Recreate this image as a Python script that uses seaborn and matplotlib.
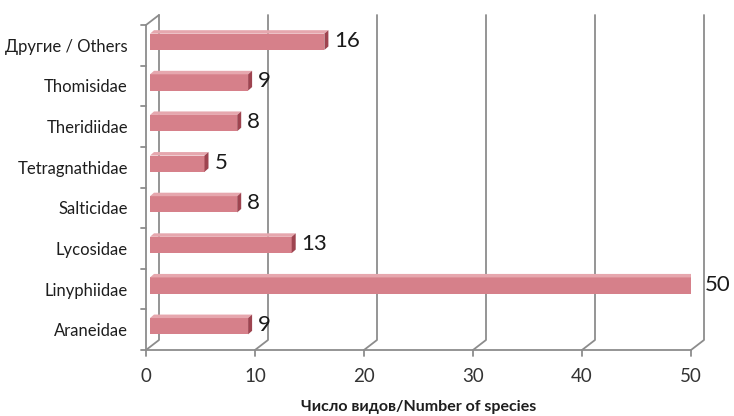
import matplotlib
matplotlib.use("Agg")
import matplotlib.pyplot as plt
from matplotlib.patches import Polygon
import pandas as pd
import seaborn as sns

families = ["Другие / Others", "Thomisidae", "Theridiidae", "Tetragnathidae",
            "Salticidae", "Lycosidae", "Linyphiidae", "Araneidae"]
species = [16, 9, 8, 5, 8, 13, 50, 9]
x_ticks = [0, 10, 20, 30, 40, 50]
x_label = "Число видов/Number of species"

sns.set_style("white")
plt.rcParams["font.family"] = ["Lato", "Open Sans", "DejaVu Sans"]

W, H = 734, 416
fig = plt.figure(figsize=(W / 100, H / 100), dpi=100)
left_px, right_px, top_px, floor_px = 146, 691, 25, 350
ax = fig.add_axes([left_px / W, 1 - floor_px / H,
                   (right_px - left_px) / W, (floor_px - top_px) / H])

df = pd.DataFrame({"family": families, "n": species})
front = "#d6808a"
sns.barplot(data=df, x="n", y="family", orient="h", color=front,
            width=0.40, saturation=1, ax=ax, edgecolor="none")

ax.set_xlim(0, 50)
ax.set_ylim(len(families) - 0.5, -0.5)

# pixel -> data helpers
ppx = (right_px - left_px) / 50
ppy = (floor_px - top_px) / len(families)
wall_dx, wall_dy = 13 / ppx, 10 / ppy       # back wall depth
bar_dx, bar_dy = 4 / ppx, 3.5 / ppy         # bar front plane offset
dep_dx, dep_dy = 4 / ppx, 3.5 / ppy         # bar depth

grid_c = "#8c8c8c"
y_bot, y_top = len(families) - 0.5, -0.5
for v in x_ticks:
    # floor slant + back wall gridline
    ax.plot([v, v + wall_dx, v + wall_dx],
            [y_bot, y_bot - wall_dy, y_top - wall_dy],
            color=grid_c, lw=1.3, clip_on=False, zorder=1)
    ax.plot([v, v], [y_bot, y_bot + 6 / ppy], color=grid_c, lw=1.3,
            clip_on=False, zorder=1)
# top slant of the left wall
ax.plot([0, wall_dx], [y_top, y_top - wall_dy], color=grid_c, lw=1.3,
        clip_on=False, zorder=1)
# category separators on the front axis
for k in range(len(families) + 1):
    y = k - 0.5
    ax.plot([0, -5 / ppx], [y, y], color=grid_c, lw=1.3, clip_on=False)

# 3d bars: shift front face, add top and end faces
for p, val in zip(ax.patches, species):
    p.set_x(p.get_x() + bar_dx)
    p.set_y(p.get_y() - bar_dy)
    p.set_zorder(3)
    x0, x1 = p.get_x(), p.get_x() + p.get_width()
    yt, yb = p.get_y(), p.get_y() + p.get_height()
    ax.add_patch(Polygon([(x0, yt), (x1, yt), (x1 + dep_dx, yt - dep_dy),
                          (x0 + dep_dx, yt - dep_dy)],
                         closed=True, fc="#e6a7ae", ec="none", zorder=3))
    ax.add_patch(Polygon([(x1, yt), (x1 + dep_dx, yt - dep_dy),
                          (x1 + dep_dx, yb - dep_dy), (x1, yb)],
                         closed=True, fc="#9e4450", ec="none", zorder=3))
    ax.text(x1 + dep_dx + 6 / ppx, (yt + yb) / 2 - 1 / ppy, str(val),
            va="center", ha="left", fontsize=16, color="#1a1a1a",
            clip_on=False, zorder=4)

for s in ["top", "right"]:
    ax.spines[s].set_visible(False)
for s in ["left", "bottom"]:
    ax.spines[s].set_color(grid_c)
    ax.spines[s].set_linewidth(1.3)

ax.set_xticks(x_ticks)
ax.set_xticklabels([str(t) for t in x_ticks], fontsize=13.5, color="#333333")
ax.tick_params(axis="x", length=0, pad=13)
ax.tick_params(axis="y", length=0, pad=13, labelsize=12, labelcolor="#1e1e1e")
ax.set_ylabel("")
ax.set_xlabel(x_label, fontsize=11.5, fontweight="bold", color="#1e1e1e",
              labelpad=11)
ax.grid(False)

fig.savefig("out.png", dpi=100)
